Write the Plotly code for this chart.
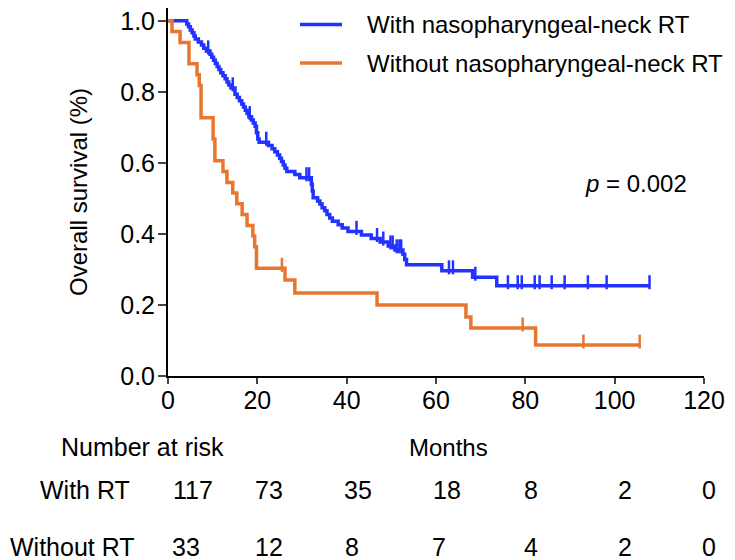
import plotly.graph_objects as go

# ---------------- data ----------------
blue_name = "With nasopharyngeal-neck RT"
orange_name = "Without nasopharyngeal-neck RT"

blue_times = [4.2, 4.6, 5.0, 5.4, 5.8, 6.1, 6.8, 7.5, 8.0, 8.6, 9.4, 9.8, 10.2, 10.6, 11.0,
              11.4, 11.8, 12.3, 12.8, 13.2, 13.6, 14.1, 15.0, 15.5, 16.0, 16.5, 16.9, 17.3,
              17.7, 18.1, 18.7, 19.1, 19.5, 19.8, 20.1, 20.4, 22.5, 23.3, 23.9, 24.5, 25.0,
              25.4, 25.8, 26.2, 26.6, 28.4, 29.5, 32.1, 32.3, 32.5, 33.5, 34.0, 34.5, 35.1,
              35.6, 36.2, 36.8, 38.1, 39.0, 40.3, 43.3, 45.5, 47.5, 49.3, 50.8, 52.6, 53.0,
              53.4, 61.3, 68.2, 73.6]
blue_surv = [0.991, 0.983, 0.974, 0.966, 0.957, 0.949, 0.940, 0.932, 0.923, 0.915, 0.906,
             0.897, 0.889, 0.880, 0.871, 0.863, 0.854, 0.845, 0.837, 0.828, 0.819, 0.811,
             0.793, 0.784, 0.775, 0.766, 0.757, 0.748, 0.739, 0.730, 0.721, 0.712, 0.703,
             0.685, 0.667, 0.658, 0.649, 0.640, 0.631, 0.622, 0.613, 0.604, 0.594, 0.585,
             0.576, 0.567, 0.558, 0.540, 0.521, 0.502, 0.493, 0.484, 0.474, 0.465, 0.455,
             0.445, 0.436, 0.426, 0.417, 0.407, 0.397, 0.387, 0.377, 0.366, 0.355, 0.343,
             0.328, 0.313, 0.296, 0.278, 0.254]
blue_censor = [9.0, 14.5, 18.3, 22.0, 31.0, 31.6, 42.2, 46.8, 48.2, 49.8, 50.3, 51.2, 51.8,
               52.2, 62.9, 63.8, 68.8, 76.1, 78.3, 79.2, 82.1, 83.2, 85.9, 88.8, 94.0, 98.2,
               107.8]

orange_times = [0.9, 2.7, 4.7, 6.5, 7.0, 7.4, 10.1, 10.5, 12.3, 13.2, 14.5, 15.4, 16.6, 17.7,
                19.0, 19.4, 19.8, 26.2, 28.4, 46.8, 66.7, 67.8, 82.3]
orange_surv = [0.970, 0.939, 0.879, 0.848, 0.818, 0.727, 0.667, 0.606, 0.576, 0.545, 0.515,
               0.485, 0.455, 0.424, 0.394, 0.364, 0.303, 0.270, 0.234, 0.200, 0.166, 0.135,
               0.087]
orange_censor = [25.5, 79.4, 93.0, 105.6]

risk_times = [0, 20, 40, 60, 80, 100, 120]
risk_with = [117, 73, 35, 18, 8, 2, 0]
risk_without = [33, 12, 8, 7, 4, 2, 0]
risk_row_labels = ["With RT", "Without RT"]
p_text = "<i>p</i> = 0.002"

# ---------------- styling / layout ----------------
BLUE = "#2233FF"
ORANGE = "#E8762F"
FONT = "Liberation Sans, Arial, sans-serif"
X_MAX = 120
risk_xshift_with = [25, 12, 11, 11, 6, 10, 5]
risk_xshift_without = [18, 12, 5, 3, 6, 10, 5]
ROW_HEAD_Y = -0.193
ROW_WITH_Y = -0.310
ROW_WITHOUT_Y = -0.465
LEG_X0, LEG_X1, LEG_TX = 0.2463, 0.3246, 0.3675
LEG_Y = [0.955, 0.8505]


def surv_at(times, surv, t):
    s = 1.0
    for ti, si in zip(times, surv):
        if ti <= t:
            s = si
    return s


def km_trace(times, surv, censor, color, name):
    end = max(censor + times)
    x = [0] + times + [end]
    y = [1.0] + surv + [surv_at(times, surv, end)]
    return go.Scatter(x=x, y=y, mode="lines", line=dict(color=color, width=3.5, shape="hv"),
                      name=name, showlegend=False, cliponaxis=False)


def censor_trace(times, surv, censor, color):
    cy = [surv_at(times, surv, c) + 0.01 for c in censor]
    return go.Scatter(x=censor, y=cy, mode="markers", showlegend=False,
                      marker=dict(symbol="line-ns", size=10,
                                  line=dict(color=color, width=2.5)),
                      cliponaxis=False, hoverinfo="skip")


fig = go.Figure()
fig.add_trace(km_trace(blue_times, blue_surv, blue_censor, BLUE, blue_name))
fig.add_trace(censor_trace(blue_times, blue_surv, blue_censor, BLUE))
fig.add_trace(km_trace(orange_times, orange_surv, orange_censor, ORANGE, orange_name))
fig.add_trace(censor_trace(orange_times, orange_surv, orange_censor, ORANGE))


def txt(x, y, text, size=25, **kw):
    d = dict(x=x, y=y, xref="paper", yref="paper", text=text, showarrow=False,
             xanchor="center", yanchor="middle",
             font=dict(size=size, color="black", family=FONT))
    d.update(kw)
    return d


ann = [
    dict(x=104.8, y=0.543, xref="x", yref="y", text=p_text, showarrow=False,
         font=dict(size=24, color="black", family=FONT)),
    txt(-0.168, 0.5, "Overall survival (%)", size=24, textangle=-90),
    txt(0.524, ROW_HEAD_Y, "Months", size=24),
    txt(-0.0485, ROW_HEAD_Y, "Number at risk"),
    txt(-0.155, ROW_WITH_Y, risk_row_labels[0]),
    txt(-0.179, ROW_WITHOUT_Y, risk_row_labels[1]),
]
for t, n, dx in zip(risk_times, risk_with, risk_xshift_with):
    ann.append(txt(t / X_MAX, ROW_WITH_Y, str(n), xshift=dx))
for t, n, dx in zip(risk_times, risk_without, risk_xshift_without):
    ann.append(txt(t / X_MAX, ROW_WITHOUT_Y, str(n), xshift=dx))

# legend drawn as key lines + labels
shapes = []
for name, color, ly in [(blue_name, BLUE, LEG_Y[0]), (orange_name, ORANGE, LEG_Y[1])]:
    shapes.append(dict(type="line", xref="paper", yref="paper", x0=LEG_X0, x1=LEG_X1,
                       y0=ly, y1=ly, line=dict(color=color, width=3.5)))
    ann.append(txt(LEG_TX, ly, name, size=24, xanchor="left"))

fig.update_layout(
    width=727, height=552,
    margin=dict(l=160, r=31, t=0, b=184),
    paper_bgcolor="white", plot_bgcolor="white",
    font=dict(family=FONT, size=24, color="black"),
    showlegend=False,
    annotations=ann,
    shapes=shapes,
    xaxis=dict(range=[0, X_MAX], tickvals=risk_times, ticks="outside", ticklen=6, tickwidth=2,
               showline=True, linecolor="black", linewidth=2, showgrid=False, zeroline=False,
               ticklabelstandoff=-5, ticklabeloverflow="allow",
               tickfont=dict(size=25, color="black", family=FONT), fixedrange=True),
    yaxis=dict(range=[0, 1.036], tickvals=[0, 0.2, 0.4, 0.6, 0.8, 1.0], tickformat=".1f",
               ticks="outside", ticklen=8, tickwidth=2, showline=True, linecolor="black",
               linewidth=2, showgrid=False, zeroline=False, ticklabelstandoff=-2,
               ticklabeloverflow="allow",
               tickfont=dict(size=25, color="black", family=FONT), fixedrange=True),
)

fig.write_html("out.html")
